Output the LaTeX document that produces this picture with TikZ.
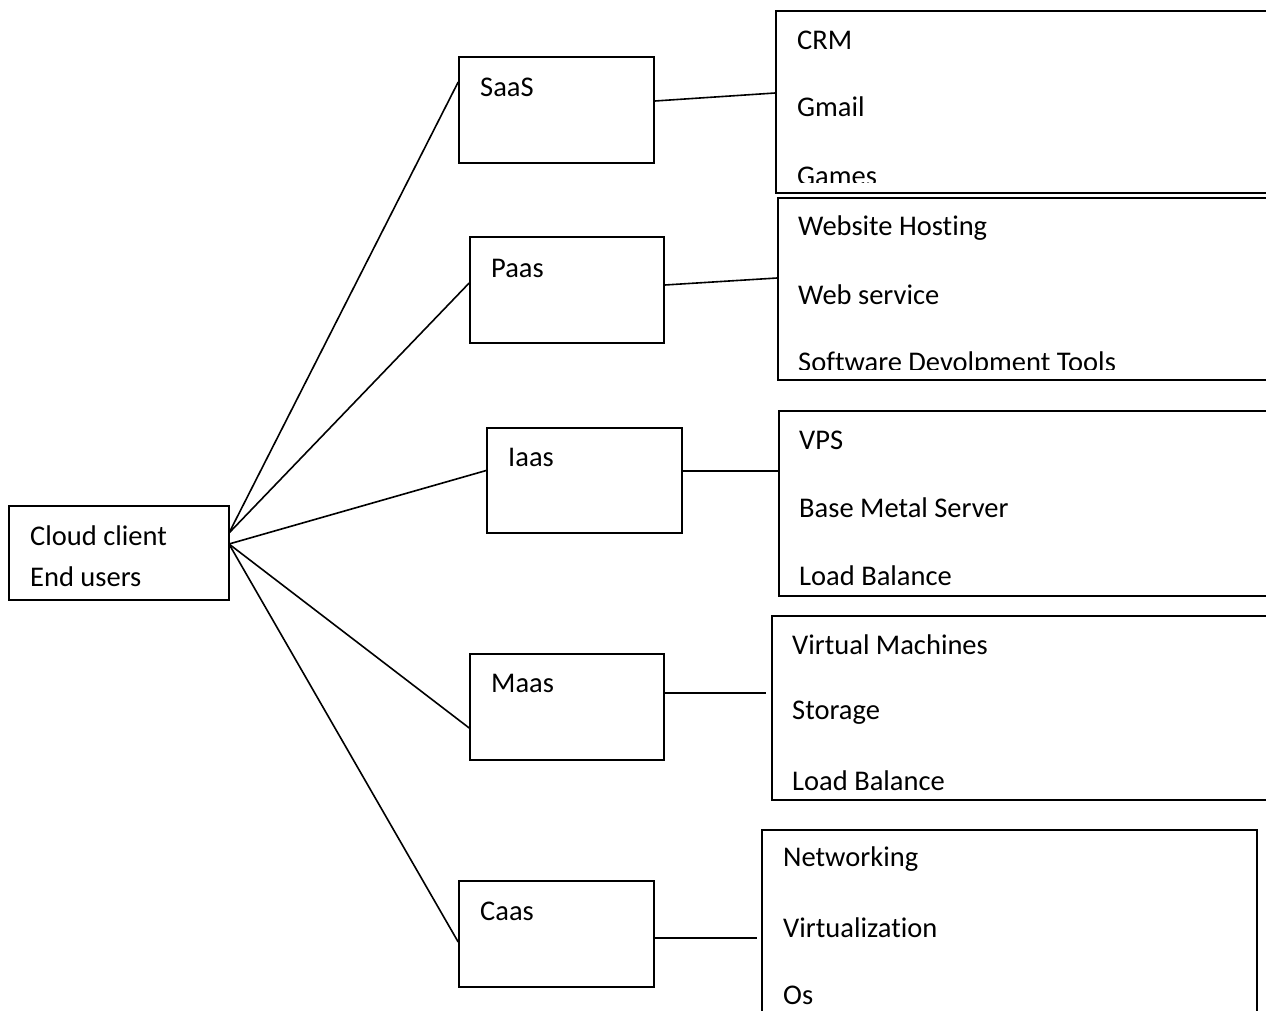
\documentclass[tikz,border=0pt]{standalone}
\usepackage{fontspec}
\setmainfont{Carlito}[Ligatures=NoCommon]
\tikzset{
  box/.style={draw,line width=1.6pt,inner sep=0pt},
  txt/.style={anchor=west,inner sep=0pt,font=\fontsize{28.5}{34}\selectfont},
  link/.style={line width=1.6pt}
}
\begin{document}
\begin{tikzpicture}[x=1pt,y=-1pt]
\clip (0,0) rectangle (1266,1011);
% left box
\node[box,minimum width=220,minimum height=94] (cloud) at (119,553) {};
\node[txt] (cloudtxt) at (30,536) {Cloud client};
\node[txt] (usertxt) at (30,577) {End users};
% service boxes
\node[box,minimum width=195,minimum height=106] (saas) at (556.5,110) {};
\node[txt] (saastxt) at (480,87) {SaaS};
\node[box,minimum width=194,minimum height=106] (paas) at (567,290) {};
\node[txt] (paastxt) at (491,268) {Paas};
\node[box,minimum width=195,minimum height=105] (iaas) at (584.5,480.5) {};
\node[txt] (iaastxt) at (508,457) {Iaas};
\node[box,minimum width=194,minimum height=106] (maas) at (567,707) {};
\node[txt] (maastxt) at (491,683) {Maas};
\node[box,minimum width=195,minimum height=106] (caas) at (556.5,934) {};
\node[txt] (caastxt) at (480,911) {Caas};
% list boxes
\node[box,minimum width=504,minimum height=182] (saaslist) at (1028,102) {};
\node[box,minimum width=502,minimum height=182] (paaslist) at (1029,289) {};
\node[box,minimum width=501,minimum height=185] (iaaslist) at (1029.5,503.5) {};
\node[box,minimum width=508,minimum height=184] (maaslist) at (1026,708) {};
\node[box,minimum width=495,minimum height=200] (caaslist) at (1009.5,930) {};
\begin{scope}
\clip (saaslist.north west) rectangle ([yshift=11]saaslist.south east);
\node[txt] (crm) at (797,40) {CRM};
\node[txt] (gmail) at (797,107) {Gmail};
\node[txt] (games) at (797,176) {Games};
\end{scope}
\begin{scope}
\clip (paaslist.north west) rectangle ([yshift=11]paaslist.south east);
\node[txt] (hosting) at (798,228) {Website Hosting};
\node[txt] (websvc) at (798,295) {Web service};
\node[txt] (devtools) at (798,364) {Software Devolpment Tools};
\end{scope}
\node[txt] (vps) at (799,440) {VPS};
\node[txt] (metal) at (799,508) {Base Metal Server};
\node[txt] (lbone) at (799,576) {Load Balance};
\node[txt] (vms) at (792,645) {Virtual Machines};
\node[txt] (storage) at (792,713) {Storage};
\node[txt] (lbtwo) at (792,781) {Load Balance};
\node[txt] (netw) at (783,859) {Networking};
\node[txt] (virt) at (783,928) {Virtualization};
\node[txt] (os) at (783,995) {Os};
% connectors
\coordinate (hubA) at (229,533);
\coordinate (hubB) at (229,544);
\coordinate (maasend) at (766,693);
\coordinate (caasend) at (757,938);
\draw[link] (hubA) -- ([yshift=28]saas.west);
\draw[link] (hubA) -- ([yshift=7]paas.west);
\draw[link] (hubB) -- ([yshift=10]iaas.west);
\draw[link] (hubB) -- ([yshift=-21]maas.west);
\draw[link] (hubB) -- ([yshift=-8]caas.west);
\draw[link] ([yshift=9]saas.east) -- ([yshift=9]saaslist.west);
\draw[link] ([yshift=5]paas.east) -- ([yshift=11]paaslist.west);
\draw[link] ([yshift=9.5]iaas.east) -- ([yshift=32.5]iaaslist.west);
\draw[link] ([yshift=14]maas.east) -- (maasend);
\draw[link] ([yshift=-4]caas.east) -- (caasend);
\end{tikzpicture}
\end{document}
